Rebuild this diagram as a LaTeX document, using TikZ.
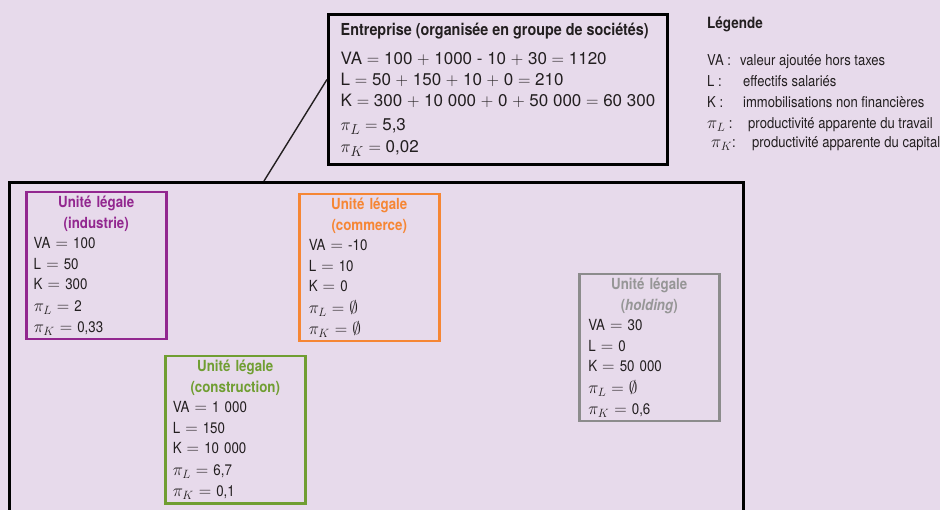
\documentclass[tikz,border=0pt]{standalone}
\usepackage{fontspec}
\setmainfont{TeX Gyre Heros}[FakeStretch=0.87]
\newfontfamily\entfont{TeX Gyre Heros}
\usepackage{xcolor}
\usetikzlibrary{positioning}
\definecolor{fond}{RGB}{231,218,235}
\definecolor{texte}{RGB}{35,31,32}
\definecolor{violetUL}{RGB}{146,39,143}
\definecolor{orangeUL}{RGB}{246,134,52}
\definecolor{vertUL}{RGB}{112,158,50}
\definecolor{grisUL}{RGB}{140,140,140}
\definecolor{grisTitre}{RGB}{150,150,150}
\DeclareMathSizes{17}{19}{14}{11}
\DeclareMathSizes{15.3}{16}{12}{9}
\DeclareMathSizes{15}{16.5}{12}{9}
\newcommand{\TitreUnite}[3]{{\centering\bfseries\color{#1}#2\\#3\par}}

\begin{document}
\begin{tikzpicture}
  [
    x=1pt, y=-1pt,
    Groupe/.style={rectangle, draw=black, line width=3pt, anchor=north west, minimum width=734pt, minimum height=360pt, inner sep=0pt},
    Entreprise/.style={rectangle, draw=black, line width=3pt, anchor=north west, minimum width=339pt, minimum height=150pt, inner xsep=12pt, inner ysep=0pt, align=left, text=texte, font=\entfont\fontsize{17}{21}\selectfont},
    Unite/.style={rectangle, draw=#1, line width=2.5pt, anchor=north west, minimum width=140pt, minimum height=147pt, text width=125pt, inner sep=0pt, align=left, text=texte, font=\fontsize{15.3}{20.5}\selectfont},
    Lien/.style={draw=texte, line width=1.4pt},
    Legende/.style={anchor=base west, inner sep=0pt, text=texte, font=\fontsize{15}{20}\selectfont}
  ]
  \fill[fond] (0,0) rectangle (940,510);
  \useasboundingbox (0,0) rectangle (940,510);
  \clip (0,0) rectangle (940,510);

  % Boxes
  \node[Groupe] (groupe) at (8,181) {};

  \node[Entreprise] (entreprise) at (327,13) {%
    {\rmfamily\bfseries\fontsize{16.5}{21}\selectfont Entreprise (organisée en groupe de sociétés)}\\[8pt]
    VA $=$ 100 $+$ 1000 - 10 $+$ 30 $=$ 1120\\
    L $=$ 50 $+$ 150 $+$ 10 $+$ 0 $=$ 210\\
    K $=$ 300 $+$ 10~000 $+$ 0 $+$ 50~000 $=$ 60~300\\[3pt]
    $\pi_L$ $=$ 5,3\\[1pt]
    $\pi_K$ $=$ 0,02};

  % Units
  \node[Unite=violetUL] (industrie) at (25,191) {%
    \TitreUnite{violetUL}{Unité légale}{(industrie)}
    VA $=$ 100\\
    L $=$ 50\\
    K $=$ 300\\[1.5pt]
    $\pi_L$ $=$ 2\\
    $\pi_K$ $=$ 0,33};

  \node[Unite=orangeUL, text width=121pt] (commerce) at (298,193) {%
    \TitreUnite{orangeUL}{Unité légale}{(commerce)}
    VA $=$ -10\\
    L $=$ 10\\
    K $=$ 0\\[1.5pt]
    $\pi_L$ $=$ $\emptyset$\\
    $\pi_K$ $=$ $\emptyset$};

  \node[Unite=vertUL] (construction) at (164,355) {%
    \TitreUnite{vertUL}{Unité légale}{(construction)}
    VA $=$ 1~000\\
    L $=$ 150\\
    K $=$ 10~000\\[1.5pt]
    $\pi_L$ $=$ 6,7\\
    $\pi_K$ $=$ 0,1};

  \node[Unite=grisUL, text width=122pt] (holding) at (578,273) {%
    \TitreUnite{grisTitre}{Unité légale}{(\textit{holding})}
    VA $=$ 30\\
    L $=$ 0\\
    K $=$ 50~000\\[1.5pt]
    $\pi_L$ $=$ $\emptyset$\\
    $\pi_K$ $=$ 0,6};

  % Link
  \coordinate (attache) at (264,181);
  \draw[Lien] (attache) -- ([yshift=10pt]entreprise.west);

  % Legend
  \node[Legende, font=\fontsize{15.5}{20}\selectfont\bfseries] (legende) at (707,29) {Légende};
  \node[Legende] (legVA) at (707,65.5) {\makebox[33pt][l]{VA :}valeur ajoutée hors taxes};
  \node[Legende] (legL) at (707,87) {\makebox[36pt][l]{L :}effectifs salariés};
  \node[Legende] (legK) at (707,108) {\makebox[36pt][l]{K :}immobilisations non financières};
  \node[Legende] (legPL) at (707,128.5) {\makebox[41pt][l]{$\pi_L$ :}productivité apparente du travail};
  \node[Legende] (legPK) at (711,148) {\makebox[41pt][l]{$\pi_K$:}productivité apparente du capital};
\end{tikzpicture}
\end{document}
